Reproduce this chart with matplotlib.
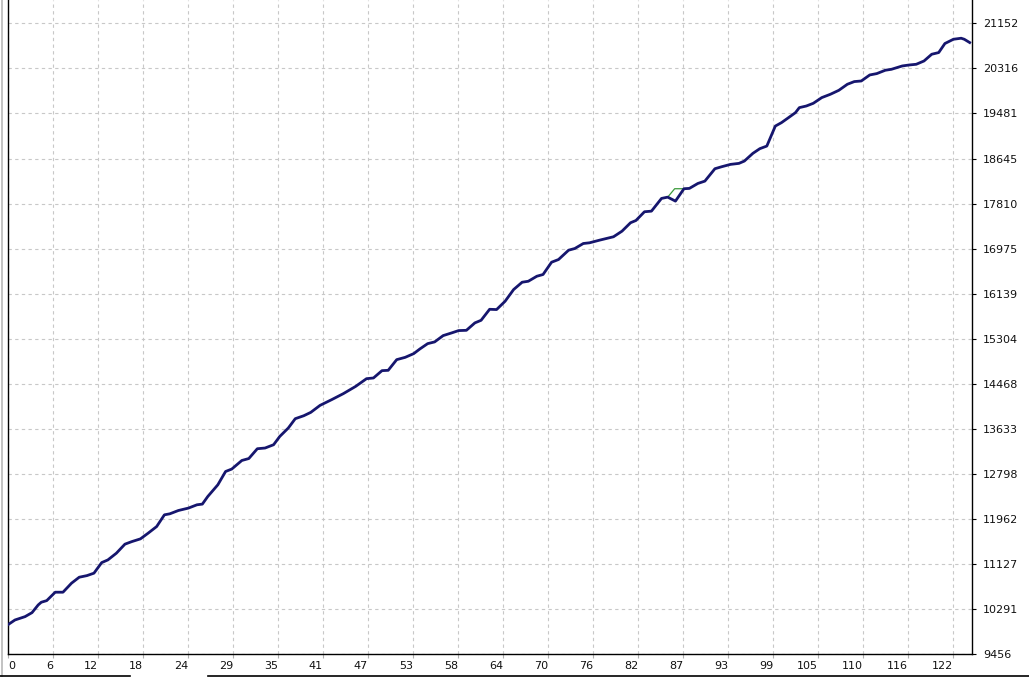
import numpy as np
import matplotlib
matplotlib.use('Agg')
import matplotlib.pyplot as plt
from matplotlib.lines import Line2D

# Balance curve (trade number, balance)
trade = [0.0, 0.9, 2.2, 3.1, 3.9, 4.3, 5.0, 6.1, 7.1, 8.2,
         9.2, 10.2, 11.1, 12.1, 12.9, 14.0, 15.1, 16.0, 17.1, 18.1,
         19.2, 20.2, 20.9, 22.0, 23.3, 24.4, 25.1, 25.8, 27.1, 28.1,
         28.9, 30.2, 31.1, 32.2, 33.2, 34.3, 35.1, 36.2, 37.1, 38.2,
         39.1, 40.3, 41.8, 43.3, 44.9, 46.3, 47.2, 48.3, 49.1, 50.2,
         51.3, 52.4, 53.2, 54.2, 55.1, 56.2, 57.3, 58.2, 59.2, 60.3,
         61.1, 62.2, 63.1, 64.2, 65.3, 66.4, 67.2, 68.3, 69.1, 70.2,
         71.1, 72.4, 73.2, 74.3, 75.1, 76.4, 78.2, 79.3, 80.4, 81.1,
         82.2, 83.1, 84.4, 85.2, 86.2, 87.3, 88.0, 89.1, 90.0, 91.3,
         92.2, 93.3, 94.4, 95.1, 96.2, 97.1, 98.0, 99.1, 99.9, 100.8,
         101.7, 102.2, 103.1, 104.0, 105.1, 106.2, 107.3, 108.4, 109.3, 110.2,
         111.3, 112.2, 113.3, 114.1, 115.5, 116.4, 117.3, 118.3, 119.3, 120.2,
         121.0, 122.1, 123.1, 123.5, 124.2]
balance = [10000, 10087, 10149, 10223, 10366, 10416, 10446, 10602, 10602, 10769,
           10880, 10910, 10955, 11151, 11201, 11326, 11493, 11541, 11591, 11697,
           11820, 12037, 12056, 12117, 12162, 12223, 12236, 12377, 12594, 12841,
           12886, 13045, 13081, 13263, 13276, 13337, 13491, 13647, 13820, 13875,
           13937, 14067, 14173, 14284, 14419, 14562, 14575, 14711, 14717, 14915,
           14958, 15027, 15114, 15212, 15244, 15361, 15411, 15454, 15459, 15597,
           15645, 15849, 15844, 15998, 16215, 16351, 16369, 16462, 16494, 16722,
           16772, 16945, 16976, 17069, 17082, 17131, 17194, 17298, 17454, 17496,
           17658, 17669, 17905, 17929, 17855, 18085, 18091, 18183, 18226, 18456,
           18494, 18536, 18555, 18598, 18741, 18828, 18876, 19247, 19311, 19403,
           19496, 19589, 19619, 19669, 19775, 19836, 19910, 20022, 20072, 20083,
           20195, 20220, 20282, 20300, 20362, 20380, 20393, 20454, 20579, 20610,
           20778, 20857, 20876, 20857, 20796]

# equity only visible where it leaves the balance line
equity_trade = [85.2, 86.1, 87.3]
equity = [17929, 18085, 18085]

xtick_labels = ['0', '6', '12', '18', '24', '29', '35', '41', '47', '53', '58',
                '64', '70', '76', '82', '87', '93', '99', '105', '110', '116', '122']
ytick_values = [9456, 10291, 11127, 11962, 12798, 13633, 14468, 15304,
                16139, 16975, 17810, 18645, 19481, 20316, 21152]

X_MAX = 124.5
X_STEP = 5.812
Y_TOP = 21585

W, H = 1029, 677
fig = plt.figure(figsize=(W / 100, H / 100), dpi=100)
fig.patch.set_facecolor('white')
ax = fig.add_axes([8 / W, 23 / H, 964 / W, 654 / H])

ax.plot(equity_trade, equity, '-', color='#3a9a3a', lw=0.9, zorder=2)
ax.plot(trade, balance, '-', color='#16166e', lw=2.0, zorder=3,
        solid_joinstyle='round')

ax.set_xlim(0, X_MAX)
ax.set_ylim(ytick_values[0], Y_TOP)

xt = [k * X_STEP for k in range(len(xtick_labels))]
ax.set_xticks(xt)
ax.set_xticklabels(xtick_labels)
ax.set_yticks(ytick_values)
ax.set_yticklabels([str(v) for v in ytick_values])

ax.yaxis.tick_right()
ax.tick_params(axis='y', direction='out', length=3, width=0.8, color='black',
               pad=5, labelsize=8, labelcolor='#111111')
ax.tick_params(axis='x', direction='out', length=3, width=0.8, color='#b0b0b0',
               pad=2, labelsize=8, labelcolor='#111111')
for i, lbl in enumerate(ax.get_xticklabels()):
    lbl.set_ha('left' if i == 0 else 'right')

ax.grid(True, color='#c8c8c8', linestyle=(0, (3, 3)), linewidth=0.8)
ax.set_axisbelow(True)

ax.spines['top'].set_visible(False)
for s in ['left', 'right', 'bottom']:
    ax.spines[s].set_color('black')
    ax.spines[s].set_linewidth(1.0)

# window frame bits around the chart
fig.add_artist(Line2D([1.5 / W, 1.5 / W], [0, 1], color='#b8b8b8', lw=1.2))
fig.add_artist(Line2D([0, 130 / W], [1.5 / H, 1.5 / H], color='black', lw=1.2))
fig.add_artist(Line2D([208 / W, 1], [1.5 / H, 1.5 / H], color='black', lw=1.2))

plt.savefig('out.png', dpi=100)
